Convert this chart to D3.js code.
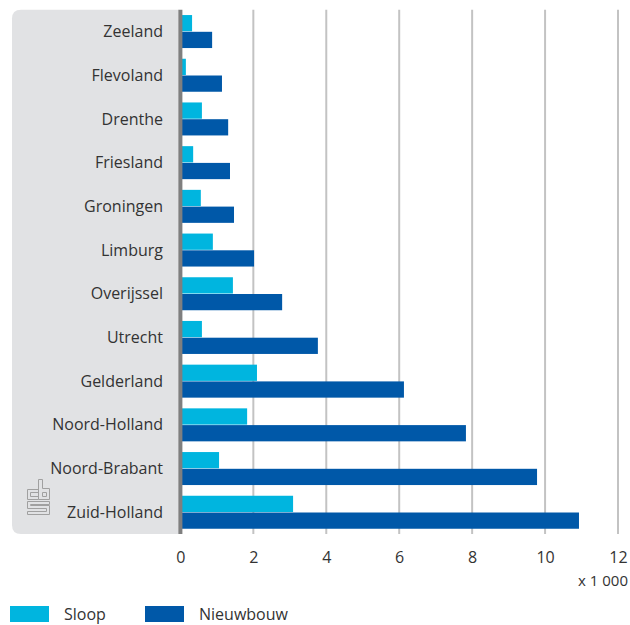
<!DOCTYPE html>
<html>
<head>
<meta charset="utf-8">
<script src="https://cdn.jsdelivr.net/npm/d3@7/dist/d3.min.js"></script>
<style>
  html, body { margin: 0; padding: 0; background: #fff; }
  svg text { font-family: "Open Sans", "Noto Sans", sans-serif; fill: #333; }
</style>
</head>
<body>
<svg id="chart" width="630" height="625"></svg>
<script>
const provinces = ["Zeeland", "Flevoland", "Drenthe", "Friesland", "Groningen", "Limburg",
  "Overijssel", "Utrecht", "Gelderland", "Noord-Holland", "Noord-Brabant", "Zuid-Holland"];
const seriesNames = ["Sloop", "Nieuwbouw"];
const sloop = [0.32, 0.15, 0.59, 0.35, 0.56, 0.89, 1.44, 0.59, 2.10, 1.83, 1.06, 3.09];
const nieuwbouw = [0.87, 1.14, 1.31, 1.36, 1.47, 2.02, 2.79, 3.77, 6.13, 7.83, 9.78, 10.93];
const xTicks = [0, 2, 4, 6, 8, 10, 12];
const unitLabel = "x 1 000";
const colors = ["#00b5df", "#0058a8"];

const svg = d3.select("#chart");
const x = d3.scaleLinear().domain([0, 12]).range([180.4, 618]);
const y = d3.scaleBand().domain(provinces).range([9.7, 534.1]).paddingInner(0.245).paddingOuter(0.1225);
const ySub = d3.scaleBand().domain(seriesNames).range([0, y.bandwidth()]).paddingInner(0.03);

// label panel (rounded left corners)
const px0 = 12, px1 = 179, py0 = y.range()[0], py1 = y.range()[1], r = 9;
svg.append("path")
  .attr("d", `M${px1},${py0} H${px0 + r} Q${px0},${py0} ${px0},${py0 + r} V${py1 - r} Q${px0},${py1} ${px0 + r},${py1} H${px1} Z`)
  .attr("fill", "#e1e2e4");

// gridlines
svg.append("g").selectAll("line").data(xTicks.filter(d => d > 0)).join("line")
  .attr("x1", d => x(d)).attr("x2", d => x(d))
  .attr("y1", py0).attr("y2", py1)
  .attr("stroke", "#c3c3c3").attr("stroke-width", 2);

// bars
const series = [sloop, nieuwbouw];
const groups = svg.append("g").selectAll("g").data(provinces).join("g")
  .attr("transform", d => `translate(0,${y(d)})`);
groups.selectAll("rect").data((p, i) => seriesNames.map((s, k) => ({ s, v: series[k][i], k })))
  .join("rect")
  .attr("x", x(0))
  .attr("y", d => ySub(d.s))
  .attr("width", d => x(d.v) - x(0))
  .attr("height", ySub.bandwidth())
  .attr("fill", d => colors[d.k]);

// zero axis line
svg.append("line")
  .attr("x1", x(0)).attr("x2", x(0))
  .attr("y1", py0).attr("y2", py1)
  .attr("stroke", "#7f7f7f").attr("stroke-width", 4);

// category labels
svg.append("g").selectAll("text").data(provinces).join("text")
  .attr("x", 163)
  .attr("y", d => y(d) + y.bandwidth() / 2)
  .attr("dy", "0.35em")
  .attr("text-anchor", "end")
  .attr("font-size", 16)
  .text(d => d);

// x axis
const xAxis = d3.axisBottom(x).tickValues(xTicks).tickSize(0).tickPadding(0);
const ax = svg.append("g").attr("transform", `translate(0,${py1})`).call(xAxis);
ax.select(".domain").remove();
ax.selectAll("text")
  .attr("y", 23).attr("dy", "0.35em")
  .attr("font-size", 16)
  .style("font-family", '"Open Sans", "Noto Sans", sans-serif')
  .attr("fill", "#333");

svg.append("text").attr("x", 628).attr("y", 581).attr("dy", "0.35em")
  .attr("text-anchor", "end").attr("font-size", 15).text(unitLabel);

// legend
const legendX = [10, 145];
const lg = svg.append("g").selectAll("g").data(seriesNames).join("g")
  .attr("transform", (d, i) => `translate(${legendX[i]},606)`);
lg.append("rect").attr("width", 39).attr("height", 16).attr("fill", (d, i) => colors[i]);
lg.append("text").attr("x", 54).attr("y", 8).attr("dy", "0.35em").attr("font-size", 16).text(d => d);

// cbs logo
const logo = svg.append("g").attr("fill", "none").attr("stroke", "#a0a0a0").attr("stroke-width", 1);
logo.append("path").attr("d", "M38.5,489.5 H27.5 V499.5 H38.5 M38.5,492.5 H30.5 V496.5 H38.5");
logo.append("path").attr("d", "M38.5,479.5 V499.5 H49.5 V488.5 H42.5 V479.5 Z M42.5,492.5 H46.5 V496.5 H42.5 Z");
logo.append("path").attr("d", "M49.5,501.5 H27.5 V508.5 H46.5 V511.5 H27.5 V514.5 H49.5 V505.5 H30.5 V504.5 H49.5 Z");
</script>
</body>
</html>
